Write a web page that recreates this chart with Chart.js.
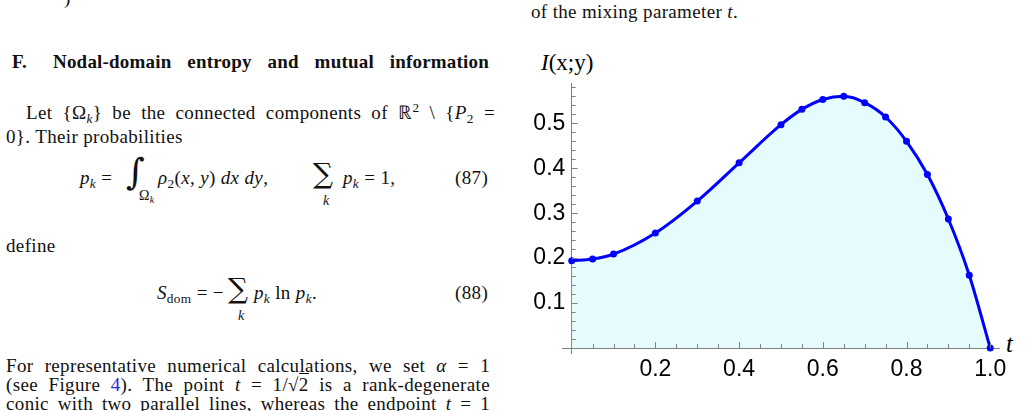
<!DOCTYPE html>
<html>
<head>
<meta charset="utf-8">
<script src="https://cdn.jsdelivr.net/npm/chart.js@4.4.1/dist/chart.umd.min.js"></script>
<style>
    html, body { margin: 0; padding: 0; background: #fff; width: 1025px; height: 411px; overflow: hidden; }
    body { position: relative; }
    .t { position: absolute; font-family: 'Liberation Serif', serif; font-size: 19px; letter-spacing: 0.35px; line-height: 20px; color: #111; white-space: nowrap; }
    .b { font-weight: bold; letter-spacing: 0.2px; }
    .j { text-align: justify; text-align-last: justify; }
    sub, sup { font-size: 70%; line-height: 0; }
    sub { vertical-align: -0.3em; }
    sup { vertical-align: 0.55em; }
    .big { font-family: 'DejaVu Serif', serif; }
    #chart { position: absolute; left: 520px; top: 0; }
</style>
</head>
<body>
<!-- left column text -->
<div class="t" style="left:64px;top:-12px">)</div>
<div class="t b" style="left:12px;top:52px">F.</div>
<div class="t b j" style="left:53px;top:52px;width:436px">Nodal-domain entropy and mutual information</div>
<div class="t j" style="left:26px;top:103px;width:469px">Let {Ω<sub><i>k</i></sub>} be the connected components of ℝ<sup>2</sup> \ {<i>P</i><sub>2</sub> =</div>
<div class="t" style="left:6px;top:127px">0}. Their probabilities</div>

<div class="t" style="left:80px;top:168px"><i>p<sub>k</sub></i> =</div>
<div class="t big" style="left:126px;top:152px;font-size:36px;line-height:40px">∫</div>
<div class="t" style="left:139px;top:186px;font-size:14px">Ω<sub><i>k</i></sub></div>
<div class="t" style="left:158px;top:168px"><i>ρ</i><sub>2</sub>(<i>x</i>, <i>y</i>) <i>dx dy</i>,</div>
<div class="t big" style="left:313px;top:159px;font-size:28px;line-height:30px">∑</div>
<div class="t" style="left:323px;top:191px;font-size:14px"><i>k</i></div>
<div class="t" style="left:343px;top:168px"><i>p<sub>k</sub></i> = 1,</div>
<div class="t" style="left:455px;top:168px">(87)</div>

<div class="t" style="left:6px;top:236px">define</div>

<div class="t" style="left:157px;top:283px"><i>S</i><sub>dom</sub> = −</div>
<div class="t big" style="left:228px;top:274px;font-size:28px;line-height:30px">∑</div>
<div class="t" style="left:238px;top:306px;font-size:14px"><i>k</i></div>
<div class="t" style="left:254px;top:283px"><i>p<sub>k</sub></i> ln <i>p<sub>k</sub></i>.</div>
<div class="t" style="left:455px;top:283px">(88)</div>

<div class="t j" style="left:6px;top:356px;width:484px">For representative numerical calculations, we set <i>α</i> = 1</div>
<div class="t j" style="left:6px;top:375px;width:484px">(see Figure <span style="color:#2828e8">4</span>). The point <i>t</i> = 1/√<span style="border-top:1px solid #111">2</span> is a rank-degenerate</div>
<div class="t j" style="left:6px;top:394px;width:484px">conic with two parallel lines, whereas the endpoint <i>t</i> = 1</div>

<!-- right column -->
<div class="t" style="left:531px;top:2px">of the mixing parameter <i>t</i>.</div>
<div class="t" style="left:541px;top:51px;font-size:23px;line-height:24px;letter-spacing:0;color:#000"><i>I</i>(x;y)</div>
<div class="t" style="left:1006px;top:331px;font-size:25px;line-height:26px;color:#000"><i>t</i></div>

<canvas id="chart" width="505" height="411"></canvas>

<script>
// mixing parameter t and mutual information I(x;y)
const tValues = [0, 0.05, 0.1, 0.2, 0.3, 0.4, 0.5, 0.55, 0.6, 0.65, 0.7, 0.75, 0.8, 0.85, 0.9, 0.95, 1.0];
const infoValues = [0.194, 0.198, 0.209, 0.256, 0.327, 0.412, 0.497, 0.531, 0.553, 0.560, 0.546, 0.514, 0.460, 0.386, 0.287, 0.162, 0.0];
const xTickLabels = [0.2, 0.4, 0.6, 0.8, 1.0];
const yTickLabels = [0.1, 0.2, 0.3, 0.4, 0.5];

const axisColor = '#808080';

// Mathematica-style small inward ticks (major + minor)
const axisTicks = {
    id: 'axisTicks',
    afterDatasetsDraw(chart) {
        const { ctx, scales: { x, y } } = chart;
        const x0 = x.getPixelForValue(0);
        const y0 = y.getPixelForValue(0);
        ctx.save();
        ctx.strokeStyle = axisColor;
        ctx.lineWidth = 1;
        ctx.beginPath();
        for (let i = 1; i <= 20; i++) {
            const px = Math.round(x.getPixelForValue(i * 0.05)) + 0.5;
            const len = i % 4 === 0 ? 6 : 4;
            ctx.moveTo(px, y0);
            ctx.lineTo(px, y0 - len);
        }
        for (let i = 1; i <= 29; i++) {
            const py = Math.round(y.getPixelForValue(i * 0.02)) + 0.5;
            const len = i % 5 === 0 ? 6 : 4;
            ctx.moveTo(x0, py);
            ctx.lineTo(x0 + len, py);
        }
        ctx.stroke();
        ctx.restore();
    }
};

new Chart(document.getElementById('chart'), {
    type: 'line',
    data: {
        datasets: [{
            data: tValues.map((t, i) => ({ x: t, y: infoValues[i] })),
            borderColor: '#0000ff',
            borderWidth: 3,
            backgroundColor: '#e6fcfc',
            fill: 'origin',
            pointRadius: 3.5,
            pointBorderWidth: 0,
            pointBackgroundColor: '#0000ff',
            cubicInterpolationMode: 'monotone',
            clip: false
        }]
    },
    options: {
        responsive: false,
        devicePixelRatio: 1,
        animation: false,
        layout: { padding: { left: 42.7, top: 83.3, right: 26, bottom: 58 } },
        plugins: { legend: { display: false }, tooltip: { enabled: false } },
        scales: {
            x: {
                type: 'linear',
                min: -0.0215,
                max: 1.021,
                position: { y: 0 },
                afterBuildTicks: scale => { scale.ticks = xTickLabels.map(v => ({ value: v })); },
                grid: { display: false },
                border: { display: true, color: axisColor, width: 1 },
                ticks: {
                    autoSkip: false,
                    maxRotation: 0,
                    padding: 0,
                    color: '#000',
                    font: { family: 'Liberation Sans', size: 23 },
                    callback: v => v.toFixed(1)
                }
            },
            y: {
                type: 'linear',
                min: -0.011,
                max: 0.589,
                position: { x: 0 },
                afterBuildTicks: scale => { scale.ticks = yTickLabels.map(v => ({ value: v })); },
                grid: { display: false },
                border: { display: true, color: axisColor, width: 1 },
                ticks: {
                    autoSkip: false,
                    color: '#000',
                    font: { family: 'Liberation Sans', size: 23 },
                    // labels sit right on the axis when it is placed at x = 0, so pad with a space
                    callback: v => v.toFixed(1) + ' '
                }
            }
        }
    },
    plugins: [axisTicks]
});
</script>
</body>
</html>
